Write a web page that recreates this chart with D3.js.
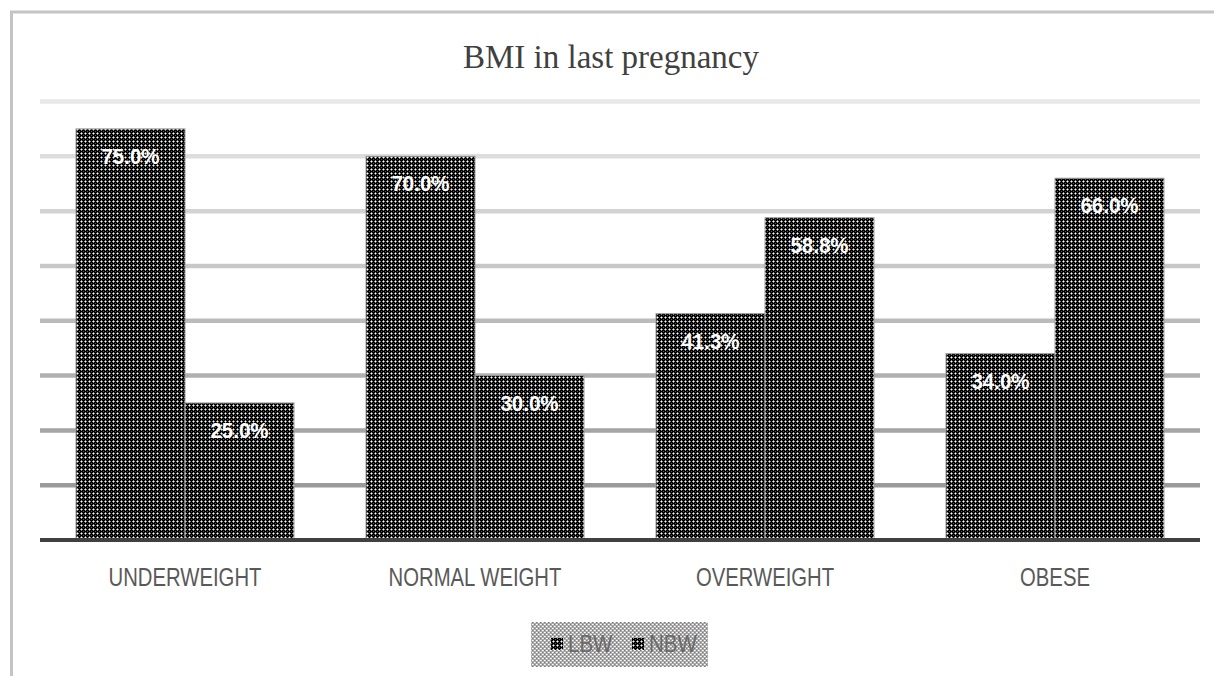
<!DOCTYPE html>
<html>
<head>
<meta charset="utf-8">
<script src="https://cdn.jsdelivr.net/npm/d3@7"></script>
<style>
  html, body { margin: 0; padding: 0; background: #fff; }
  svg { display: block; }
</style>
</head>
<body>
<svg id="chart" width="1214" height="676"></svg>
<script>
const categories = ["UNDERWEIGHT", "NORMAL WEIGHT", "OVERWEIGHT", "OBESE"];
const seriesNames = ["LBW", "NBW"];
const lbwValues = [75.0, 70.0, 41.3, 34.0];
const nbwValues = [25.0, 30.0, 58.8, 66.0];
const yTicks = [0, 10, 20, 30, 40, 50, 60, 70, 80];
const titleText = "BMI in last pregnancy";

const svg = d3.select("#chart");
const W = 1214, H = 676;
const plot = { left: 40, right: 1200, top: 101.5, bottom: 540 };
const sansFont = "'Liberation Sans', Arial, sans-serif";

const defs = svg.append("defs");
// bar stipple pattern
const bp = defs.append("pattern").attr("id", "barPat").attr("patternUnits", "userSpaceOnUse")
  .attr("width", 4).attr("height", 4);
bp.append("rect").attr("width", 4).attr("height", 4).attr("fill", "#000");
bp.append("rect").attr("x", 1).attr("y", 1).attr("width", 1).attr("height", 1).attr("fill", "#ffffff");
[[0,1],[2,1],[1,0],[1,2]].forEach(p => bp.append("rect").attr("x", p[0]).attr("y", p[1])
  .attr("width", 1).attr("height", 1).attr("fill", "#8c8c8c"));
[[3,3]].forEach(p => bp.append("rect").attr("x", p[0]).attr("y", p[1])
  .attr("width", 1).attr("height", 1).attr("fill", "#555"));

// legend background pattern
const lp = defs.append("pattern").attr("id", "legPat").attr("patternUnits", "userSpaceOnUse")
  .attr("width", 4).attr("height", 4);
lp.append("rect").attr("width", 4).attr("height", 4).attr("fill", "#a8a8a8");
[[0,0],[2,2]].forEach(p => lp.append("rect").attr("x", p[0]).attr("y", p[1]).attr("width", 1).attr("height", 1).attr("fill", "#fff"));
[[1,0],[3,2]].forEach(p => lp.append("rect").attr("x", p[0]).attr("y", p[1]).attr("width", 1).attr("height", 1).attr("fill", "#e0e0e0"));
[[2,0],[0,2]].forEach(p => lp.append("rect").attr("x", p[0]).attr("y", p[1]).attr("width", 1).attr("height", 1).attr("fill", "#7a7a7a"));

// outer frame
svg.append("rect").attr("x", 11.5).attr("y", 12).attr("width", W + 20).attr("height", H + 20)
  .attr("fill", "none").attr("stroke", "#c4c4c4").attr("stroke-width", 3);

// title
svg.append("text").attr("x", 611).attr("y", 68).attr("text-anchor", "middle")
  .attr("font-family", "'Liberation Serif', 'Times New Roman', serif")
  .attr("font-size", 33).attr("fill", "#404040").text(titleText);

const x0 = d3.scaleBand().domain(categories).range([plot.left, plot.right]).paddingInner(0).paddingOuter(0);
const barW = 109;
const x1 = d3.scaleBand().domain(seriesNames).range([0, barW * 2]).padding(0);
const y = d3.scaleLinear().domain([0, 80]).range([plot.bottom, plot.top]);

// gridlines with gradient grey
const gridColor = d3.scaleLinear().domain([80, 10]).range(["#e8e8e8", "#9a9a9a"]);
svg.append("g").selectAll("line").data(yTicks.filter(d => d > 0)).join("line")
  .attr("x1", plot.left).attr("x2", plot.right)
  .attr("y1", d => y(d)).attr("y2", d => y(d))
  .attr("stroke", d => gridColor(d)).attr("stroke-width", 4.5);

const data = categories.map((c, i) => ({ cat: c, vals: [
  { s: "LBW", v: lbwValues[i] }, { s: "NBW", v: nbwValues[i] }] }));

const groups = svg.append("g").selectAll("g").data(data).join("g")
  .attr("transform", d => `translate(${x0(d.cat) + x0.bandwidth() / 2 - barW},0)`);

groups.selectAll("rect").data(d => d.vals).join("rect")
  .attr("x", d => x1(d.s)).attr("width", x1.bandwidth())
  .attr("y", d => y(d.v)).attr("height", d => y(0) - y(d.v))
  .attr("fill", "url(#barPat)").attr("stroke", "#9a9a9a").attr("stroke-width", 1);

// stretch helper: keep natural width of smaller size, render taller
function stretch(sel, baseSize, bigSize) {
  sel.each(function () {
    const t = d3.select(this);
    t.attr("font-size", baseSize);
    const w = this.getComputedTextLength();
    t.attr("font-size", bigSize).attr("textLength", w).attr("lengthAdjust", "spacingAndGlyphs");
  });
}

const labels = groups.selectAll("text").data(d => d.vals).join("text")
  .attr("x", d => x1(d.s) + x1.bandwidth() / 2)
  .attr("y", d => y(d.v) + 35)
  .attr("text-anchor", "middle")
  .attr("font-family", sansFont)
  .attr("font-weight", "bold").attr("fill", "#ffffff")
  .text(d => d.v.toFixed(1) + "%");
stretch(labels, 20.5, 22.5);

// baseline axis
const xAxis = d3.axisBottom(x0).tickSize(0).tickPadding(0);
const ax = svg.append("g").attr("transform", `translate(0,${plot.bottom})`).call(xAxis);
ax.select(".domain").attr("stroke", "#404040").attr("stroke-width", 4)
  .attr("d", `M${plot.left},0H${plot.right}`);
const tickTexts = ax.selectAll(".tick text").attr("dy", 0).attr("y", 46)
  .attr("font-family", sansFont).attr("fill", "#595959");
stretch(tickTexts, 20.3, 25);

// legend
const leg = svg.append("g");
leg.append("rect").attr("x", 531).attr("y", 622).attr("width", 177).attr("height", 45).attr("fill", "url(#legPat)");
const legItems = [{ s: "LBW", x: 551 }, { s: "NBW", x: 632 }];
legItems.forEach((it, i) => {
  leg.append("rect").attr("x", it.x).attr("y", 638).attr("width", 12).attr("height", 12).attr("fill", "url(#barPat)");
  const t = leg.append("text").attr("x", it.x + 17).attr("y", 652)
    .attr("font-family", sansFont).attr("fill", "#6a6a6a").text(seriesNames[i]);
  stretch(t, 20.5, 23);
});
</script>
</body>
</html>
